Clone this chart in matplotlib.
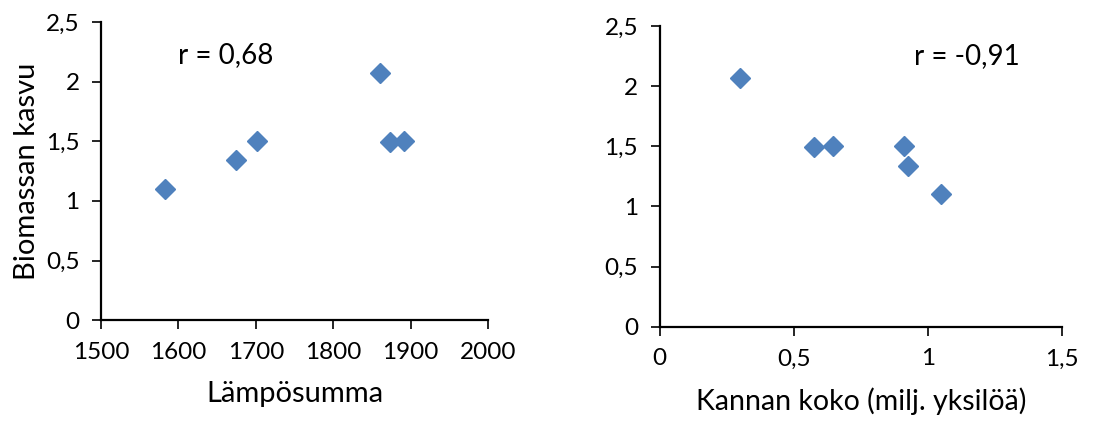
import matplotlib
matplotlib.use('Agg')
import matplotlib.pyplot as plt
from matplotlib.ticker import FuncFormatter

# data
lampo = [1583, 1675, 1701, 1860, 1873, 1892]
kasvu_left = [1.10, 1.34, 1.50, 2.07, 1.49, 1.50]
kanta = [0.30, 0.575, 0.645, 0.91, 0.925, 1.05]
kasvu_right = [2.07, 1.49, 1.50, 1.50, 1.34, 1.10]
r_left = "r = 0,68"
r_right = "r = -0,91"

plt.rcParams['font.family'] = ['Lato', 'DejaVu Sans']
blue = '#4F81BD'


def comma(v, pos):
    s = ('%g' % v).replace('.', ',')
    return s


fig = plt.figure(figsize=(11.03, 4.24), dpi=100)
ax1 = fig.add_axes([0.0916, 0.245, 0.3508, 0.703])
ax2 = fig.add_axes([0.598, 0.229, 0.365, 0.710])

for ax in (ax1, ax2):
    for s in ('top', 'right'):
        ax.spines[s].set_visible(False)
    for s in ('left', 'bottom'):
        ax.spines[s].set_linewidth(1.6)
    ax.tick_params(direction='out', length=6.5, width=1.2, labelsize=17.5)
    ax.tick_params(axis='y', pad=9)
    ax.tick_params(axis='x', pad=9)
    ax.yaxis.set_major_formatter(FuncFormatter(comma))
    ax.xaxis.set_major_formatter(FuncFormatter(comma))
    ax.set_ylim(0, 2.5)
    ax.set_yticks([0, 0.5, 1, 1.5, 2, 2.5])

ax1.plot(lampo, kasvu_left, 'D', color=blue, markersize=10.5, clip_on=False)
ax1.set_xlim(1500, 2000)
ax1.set_xticks([1500, 1600, 1700, 1800, 1900, 2000])
ax1.set_xlabel('Lämpösumma', fontsize=21, labelpad=13)
ax1.set_ylabel('Biomassan kasvu', fontsize=21, labelpad=4)
ax1.text(1599, 2.22, r_left, fontsize=20, ha='left', va='center')

ax2.plot(kanta, kasvu_right, 'D', color=blue, markersize=10.5, clip_on=False)
ax2.set_xlim(0, 1.5)
ax2.set_xticks([0, 0.5, 1, 1.5])
ax2.set_xlabel('Kannan koko (milj. yksilöä)', fontsize=20.5, labelpad=13)
ax2.text(0.948, 2.25, r_right, fontsize=20, ha='left', va='center')

fig.savefig('out.png', dpi=100)
